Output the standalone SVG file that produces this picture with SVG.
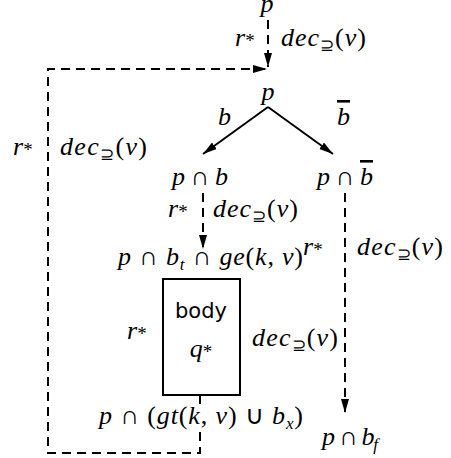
<svg xmlns="http://www.w3.org/2000/svg" width="451" height="458" viewBox="0 0 451 458" font-family="Liberation Serif, serif">
<style>
.m{font-style:italic;font-size:26px;fill:#000}
.n{font-style:normal}
.s{font-size:17px}
.st{font-size:19px;font-style:normal}
.sf{font-size:21px;fill:#000}
.ov{text-decoration:overline}
.dash{fill:none;stroke:#000;stroke-width:2;stroke-dasharray:9,6}
.sol{fill:none;stroke:#000;stroke-width:2}
</style>
<defs>
<marker id="ah" markerUnits="userSpaceOnUse" markerWidth="15" markerHeight="9" refX="14" refY="4" orient="auto">
<path d="M0,0 L14,4 L0,8 z" fill="#000"/>
</marker>
</defs>
<rect width="451" height="458" fill="#fff"/>
<g id="connectors">
<path class="dash" d="M268,20 V67" marker-end="url(#ah)"/>
<path class="sol" d="M268,107 L203,154" marker-end="url(#ah)"/>
<path class="sol" d="M268,107 L333,154" marker-end="url(#ah)"/>
<path class="dash" d="M203,193 V249" marker-end="url(#ah)"/>
<path class="dash" d="M345,193 V413" marker-end="url(#ah)"/>
<path class="dash" d="M200,395 V404 M200,432 V453 H48 V69 H267" marker-end="url(#ah)"/>
</g>
<g id="labels" font-family="Liberation Serif, serif">
<text class="m" x="235" y="46">r<tspan class="st" dy="1">*</tspan></text>
<text class="m" x="281" y="46" textLength="85">dec<tspan class="n s" dy="5">⊇</tspan><tspan class="n" dy="-5">(</tspan>v<tspan class="n">)</tspan></text>
<text class="m" x="218" y="125">b</text>
<text class="m" x="337" y="125"><tspan class="ov">b</tspan></text>
<text class="m" x="13" y="155">r<tspan class="st" dy="1">*</tspan></text>
<text class="m" x="60" y="155" textLength="87">dec<tspan class="n s" dy="5">⊇</tspan><tspan class="n" dy="-5">(</tspan>v<tspan class="n">)</tspan></text>
<text class="m" x="168" y="217">r<tspan class="st" dy="1">*</tspan></text>
<text class="m" x="213" y="217" textLength="85">dec<tspan class="n s" dy="5">⊇</tspan><tspan class="n" dy="-5">(</tspan>v<tspan class="n">)</tspan></text>
<text class="m" x="303" y="255">r<tspan class="st" dy="1">*</tspan></text>
<text class="m" x="357" y="255" textLength="86">dec<tspan class="n s" dy="5">⊇</tspan><tspan class="n" dy="-5">(</tspan>v<tspan class="n">)</tspan></text>
<text class="m" x="127" y="339">r<tspan class="st" dy="1">*</tspan></text>
<text class="m" x="252" y="346" textLength="86">dec<tspan class="n s" dy="5">⊇</tspan><tspan class="n" dy="-5">(</tspan>v<tspan class="n">)</tspan></text>
</g>
<g id="n_p_top"><text class="m" x="267" y="12" text-anchor="middle">p</text></g>
<g id="n_p"><text class="m" x="268" y="100" text-anchor="middle">p</text></g>
<g id="n_pb"><text class="m" x="172" y="185" textLength="56">p <tspan class="n">∩</tspan> b</text></g>
<g id="n_pnb"><text class="m" x="317" y="185" textLength="56">p <tspan class="n">∩</tspan> <tspan class="ov">b</tspan></text></g>
<g id="n_pbt"><text class="m" x="118" y="265" textLength="185">p <tspan class="n">∩</tspan> b<tspan class="s" dy="5">t</tspan><tspan dy="-5"> </tspan><tspan class="n">∩</tspan> ge<tspan class="n">(</tspan>k<tspan class="n">, </tspan>v<tspan class="n">)</tspan></text></g>
<g id="n_body">
<rect x="163" y="279" width="77" height="116" fill="none" stroke="#000" stroke-width="2"/>
<text class="sf" x="201" y="318" text-anchor="middle" font-family="DejaVu Sans, sans-serif">body</text>
<text class="m" x="201" y="357" text-anchor="middle">q<tspan class="st" dy="1">*</tspan></text>
</g>
<g id="n_exit"><text class="m" x="99" y="424" textLength="204">p <tspan class="n">∩ (</tspan>gt<tspan class="n">(</tspan>k<tspan class="n">, </tspan>v<tspan class="n">) ∪ </tspan>b<tspan class="s" dy="5">x</tspan><tspan class="n" dy="-5">)</tspan></text></g>
<g id="n_pbf"><text class="m" x="322" y="445" textLength="56">p <tspan class="n">∩</tspan> b<tspan class="s" dy="5">f</tspan></text></g>
</svg>
